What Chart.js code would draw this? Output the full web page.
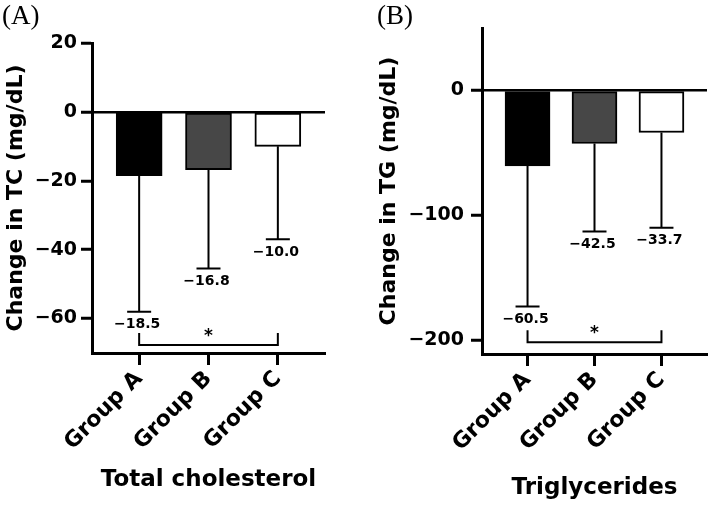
<!DOCTYPE html>
<html>
<head>
<meta charset="utf-8">
<script src="https://cdn.jsdelivr.net/npm/chart.js@4/dist/chart.umd.min.js"></script>
<style>
  body { margin: 0; background: #fff; }
  #wrap { position: relative; width: 709px; height: 506px; background: #fff; }
  .panel { position: absolute; top: 0; height: 506px; }
  .tag { position: absolute; top: 2px; font: 27px "Liberation Serif", serif; line-height: 27px; color: #000; }
</style>
</head>
<body>
<div id="wrap">
  <div class="panel" style="left:0;width:354px"><canvas id="tcChart"></canvas></div>
  <div class="panel" style="left:354px;width:355px"><canvas id="tgChart"></canvas></div>
  <div class="tag" style="left:2px">(A)</div>
  <div class="tag" style="left:377px">(B)</div>
</div>
<script>
const groups = ["Group A", "Group B", "Group C"];
const barColors = ["#000000", "#474747", "#ffffff"];

// Total cholesterol (mg/dL): mean change and lower end of the whisker
const tcMeans = [-18.5, -16.8, -10.0];
const tcLower = [-58, -45.5, -37];
const tcTicks = [20, 0, -20, -40, -60];
const tcBracket = -67.7;

// Triglycerides (mg/dL)
const tgMeans = [-60.5, -42.5, -33.7];
const tgLower = [-173, -113, -110];
const tgTicks = [0, -100, -200];
const tgBracket = -201.6;

const FONT = "'DejaVu Sans', sans-serif";
Chart.defaults.color = "#000";
Chart.defaults.font.family = FONT;

function signed(v) {
  return v < 0 ? "\u2212" + Math.abs(v) : String(v);
}

function makeErrorBars(means, lower, bracketLevel) {
  return {
    id: "errorBars",
    afterDatasetsDraw(chart) {
      const { ctx, scales: { x, y } } = chart;
      ctx.save();
      ctx.strokeStyle = "#000";
      ctx.fillStyle = "#000";
      ctx.lineWidth = 2;
      ctx.font = "bold 14px " + FONT;
      ctx.textAlign = "center";
      ctx.textBaseline = "middle";

      means.forEach((mean, i) => {
        const px = x.getPixelForValue(i);
        const top = y.getPixelForValue(mean);
        const bottom = y.getPixelForValue(lower[i]);
        ctx.beginPath();
        ctx.moveTo(px, top);
        ctx.lineTo(px, bottom);
        ctx.moveTo(px - 12, bottom);
        ctx.lineTo(px + 12, bottom);
        ctx.stroke();
        ctx.fillText("\u2212" + Math.abs(mean).toFixed(1), px - 2, bottom + 13);
      });

      // significance bracket between first and last group
      const left = x.getPixelForValue(0);
      const right = x.getPixelForValue(means.length - 1);
      const level = y.getPixelForValue(bracketLevel);
      ctx.beginPath();
      ctx.moveTo(left, level - 12);
      ctx.lineTo(left, level);
      ctx.lineTo(right, level);
      ctx.lineTo(right, level - 12);
      ctx.stroke();

      ctx.font = "bold 17px " + FONT;
      ctx.textBaseline = "alphabetic";
      ctx.fillText("*", (left + right) / 2, level - 14 + 10);
      ctx.restore();
    },
  };
}

function createPanel(canvasId, cfg) {
  return new Chart(document.getElementById(canvasId), {
    type: "bar",
    data: {
      datasets: [{
        data: cfg.means.map((v, i) => ({ x: i, y: v })),
        backgroundColor: barColors,
        borderColor: "#000",
        borderWidth: 2,
        borderSkipped: false,
        barThickness: cfg.barWidth,
      }],
    },
    options: {
      responsive: true,
      maintainAspectRatio: false,
      animation: false,
      layout: { padding: cfg.padding },
      plugins: {
        legend: { display: false },
        tooltip: { enabled: false },
      },
      scales: {
        x: {
          type: "linear",
          min: -0.68,
          max: 2.68,
          offset: false,
          afterBuildTicks: (scale) => {
            scale.ticks = groups.map((_, i) => ({ value: i }));
          },
          afterFit: (scale) => {
            scale.height = cfg.xHeight;
            scale.paddingLeft = 0;
            scale.paddingRight = 0;
          },
          ticks: {
            callback: (v) => groups[v],
            autoSkip: false,
            minRotation: 45,
            maxRotation: 45,
            padding: 1,
            font: { size: 22, weight: "bold" },
          },
          grid: {
            drawOnChartArea: false,
            offset: false,
            tickLength: 12,
            tickColor: "#000",
            tickWidth: 3,
          },
          border: { display: true, color: "#000", width: 3 },
          title: {
            display: true,
            text: cfg.xTitle,
            font: { size: 23, weight: "bold" },
            padding: { top: 0, bottom: cfg.xTitlePad },
          },
        },
        y: {
          min: cfg.yMin,
          max: cfg.yMax,
          afterBuildTicks: (scale) => {
            scale.ticks = cfg.ticks.map((v) => ({ value: v }));
          },
          afterFit: (scale) => {
            scale.width = cfg.yWidth;
            scale.paddingTop = 0;
            scale.paddingBottom = 0;
          },
          ticks: {
            callback: signed,
            padding: cfg.tickPad,
            font: { size: 19, weight: "bold" },
          },
          grid: {
            color: (ctx) => (ctx.tick && ctx.tick.value === 0 ? "#000" : "rgba(0,0,0,0)"),
            lineWidth: 2.5,
            tickLength: 11,
            tickColor: "#000",
            tickWidth: 3,
          },
          border: { display: true, color: "#000", width: 3 },
          title: {
            display: true,
            text: cfg.yTitle,
            font: { size: 22, weight: "bold" },
            padding: { top: cfg.yTitlePad, bottom: 0 },
          },
        },
      },
    },
    plugins: [makeErrorBars(cfg.means, cfg.lower, cfg.bracket)],
  });
}

createPanel("tcChart", {
  means: tcMeans,
  lower: tcLower,
  ticks: tcTicks,
  bracket: tcBracket,
  yMin: -70,
  yMax: 20,
  yTitle: "Change in TC (mg/dL)",
  xTitle: "Total cholesterol",
  padding: { left: 0, right: 29, top: 43, bottom: 0 },
  yWidth: 92,
  xHeight: 153,
  tickPad: 4,
  yTitlePad: 3,
  xTitlePad: 12,
  barWidth: 46,
});

createPanel("tgChart", {
  means: tgMeans,
  lower: tgLower,
  ticks: tgTicks,
  bracket: tgBracket,
  yMin: -211,
  yMax: 50,
  yTitle: "Change in TG (mg/dL)",
  xTitle: "Triglycerides",
  padding: { left: 0, right: 2, top: 28, bottom: 0 },
  yWidth: 128,
  xHeight: 152,
  tickPad: 7,
  yTitlePad: 22,
  xTitlePad: 4,
  barWidth: 45,
});
</script>
</body>
</html>
